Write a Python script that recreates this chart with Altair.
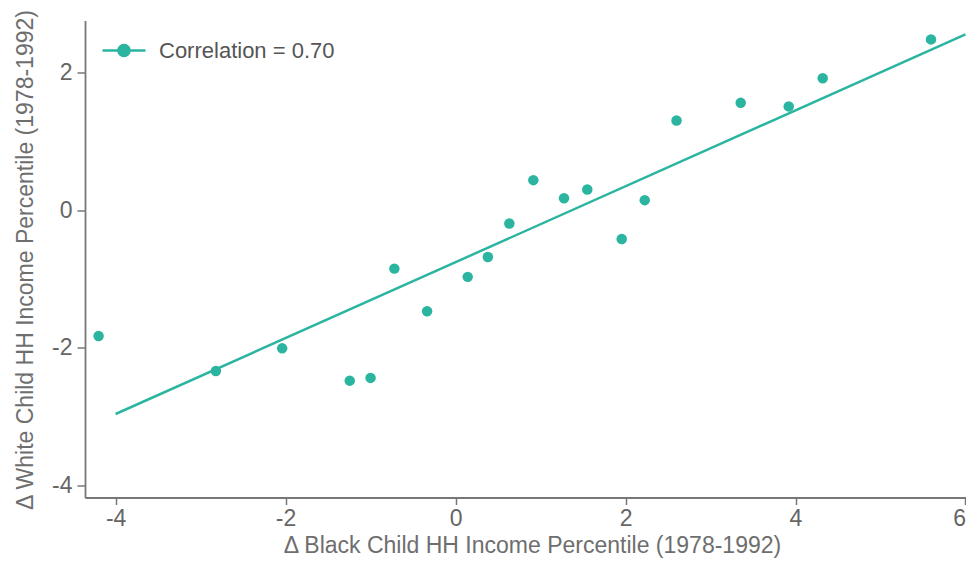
import altair as alt
import pandas as pd

# Binned scatter: change in Black vs White child household income percentile
black_change = [-4.20, -2.82, -2.04, -1.245, -1.00, -0.72, -0.335, 0.143, 0.38, 0.633,
                0.915, 1.276, 1.55, 1.955, 2.226, 2.60, 3.355, 3.92, 4.32, 5.594]
white_change = [-1.83, -2.34, -2.01, -2.48, -2.44, -0.85, -1.47, -0.97, -0.68, -0.194,
                0.437, 0.175, 0.30, -0.42, 0.146, 1.305, 1.562, 1.51, 1.92, 2.485]
fit_x = [-4.0, 6.0]
fit_y = [-2.965, 2.557]
legend_label = "Correlation = 0.70"
x_ticks = [-4, -2, 0, 2, 4, 6]
y_ticks = [-4, -2, 0, 2]

TEAL = "#2bb5a0"
FONT = "Liberation Sans"
FS = 23

pts = pd.DataFrame({"x": black_change, "y": white_change, "series": legend_label})
fit = pd.DataFrame({"x": fit_x, "y": fit_y})

xscale = alt.Scale(domain=[-4.36, 6.006], nice=False, zero=False)
yscale = alt.Scale(domain=[-4.18, 2.76], nice=False, zero=False)

hyphen = "datum.value < 0 ? '-' + abs(datum.value) : '' + datum.value"

xaxis = alt.Axis(values=x_ticks, title="Δ Black Child HH Income Percentile (1978-1992)",
                 grid=False, tickSize=7, labelPadding=3, titlePadding=4,
                 labelExpr=hyphen, titleX=447)
yaxis = alt.Axis(values=y_ticks, title="Δ White Child HH Income Percentile (1978-1992)",
                 grid=False, tickSize=8, labelPadding=5, titlePadding=14,
                 labelExpr=hyphen, titleY=239)

sym_path = ("M-1,0L1,0M0.26,0A0.26,0.26,0,1,1,-0.26,0A0.26,0.26,0,1,1,0.26,0Z")

line = alt.Chart(fit).mark_line(color=TEAL, strokeWidth=2.5).encode(
    x=alt.X("x:Q", scale=xscale, axis=xaxis),
    y=alt.Y("y:Q", scale=yscale, axis=yaxis),
)

points = alt.Chart(pts).mark_point(filled=True, opacity=1, size=110).encode(
    x=alt.X("x:Q", scale=xscale, axis=xaxis),
    y=alt.Y("y:Q", scale=yscale, axis=yaxis),
    color=alt.Color("series:N", scale=alt.Scale(domain=[legend_label], range=[TEAL]),
                    legend=alt.Legend(title=None, orient="none", legendX=16, legendY=7,
                                      symbolType=sym_path, symbolSize=1849,
                                      symbolFillColor=TEAL, symbolStrokeColor=TEAL,
                                      symbolStrokeWidth=2.5, symbolOpacity=1,
                                      labelFontSize=22, labelColor="#555555",
                                      labelFont=FONT, labelOffset=12, padding=0,
                                      labelLimit=500)),
)

chart = alt.layer(line, points).properties(
    width=881, height=477,
    autosize=alt.AutoSizeParams(type="none"),
    padding={"left": 77, "top": 12.5, "right": 0, "bottom": 62.5},
).configure_view(stroke=None).configure_axis(
    labelFont=FONT, titleFont=FONT, labelFontSize=FS, titleFontSize=FS,
    labelColor="#666666", titleColor="#6e6e6e", titleFontWeight="normal",
    domainColor="#777777", tickColor="#777777", domainWidth=1.8, tickWidth=1.5,
)

chart.save("out.html", embed_options={"renderer": "svg", "actions": False})
